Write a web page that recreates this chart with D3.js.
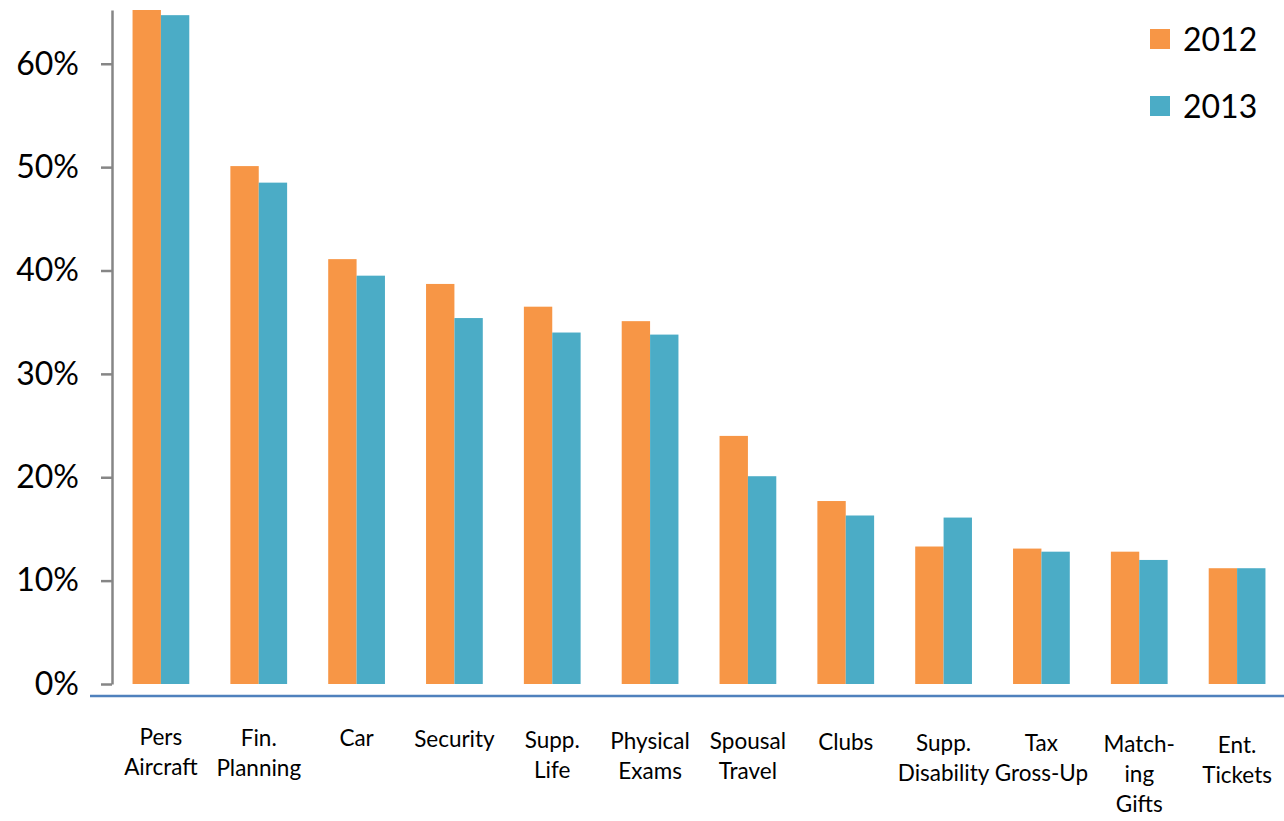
<!DOCTYPE html>
<html>
<head>
<meta charset="utf-8">
<script src="https://cdn.jsdelivr.net/npm/d3@7"></script>
<style>
  html, body { margin: 0; padding: 0; background: #fff; }
  svg { display: block; }
  text { font-family: Lato, "Open Sans", sans-serif; fill: #000; }
</style>
</head>
<body>
<svg id="chart" width="1284" height="821"></svg>
<script>
// Share of companies providing each executive perquisite
const categories = [
  ["Pers", "Aircraft"],
  ["Fin.", "Planning"],
  ["Car"],
  ["Security"],
  ["Supp.", "Life"],
  ["Physical", "Exams"],
  ["Spousal", "Travel"],
  ["Clubs"],
  ["Supp.", "Disability"],
  ["Tax", "Gross-Up"],
  ["Match-", "ing", "Gifts"],
  ["Ent.", "Tickets"]
];
const seriesNames = ["2012", "2013"];
const values2012 = [65.2, 50.1, 41.1, 38.7, 36.5, 35.1, 24.0, 17.7, 13.3, 13.1, 12.8, 11.2];
const values2013 = [64.7, 48.5, 39.5, 35.4, 34.0, 33.8, 20.1, 16.3, 16.1, 12.8, 12.0, 11.2];
const yTicks = [0, 10, 20, 30, 40, 50, 60];
const colors = ["#F79646", "#4BACC6"];

const svg = d3.select("#chart");
const keys = categories.map((c, i) => i);

const x = d3.scaleBand()
  .domain(keys)
  .range([112, 1286])
  .paddingInner(0.42)
  .paddingOuter(0.21);

const xs = d3.scaleBand()
  .domain(seriesNames)
  .range([0, x.bandwidth()]);

const y = d3.scaleLinear()
  .domain([0, 65.2])
  .range([684, 10]);

// Bars
const series = [values2012, values2013];
series.forEach((vals, s) => {
  svg.append("g")
    .selectAll("rect")
    .data(vals)
    .join("rect")
    .attr("x", (d, i) => x(i) + xs(seriesNames[s]))
    .attr("y", d => y(d))
    .attr("width", xs.bandwidth())
    .attr("height", d => y(0) - y(d))
    .attr("fill", colors[s]);
});

// Y axis
const yAxis = d3.axisLeft(y)
  .tickValues(yTicks)
  .tickFormat(d => d + "%")
  .tickSize(11)
  .tickPadding(22)
  .tickSizeOuter(0);

const yg = svg.append("g")
  .attr("transform", "translate(112,0)")
  .call(yAxis);
yg.select(".domain").attr("stroke", "#868686").attr("stroke-width", 2.5);
yg.selectAll(".tick line").attr("stroke", "#868686").attr("stroke-width", 2.5);
yg.selectAll(".tick text")
  .style("font-family", "Lato, 'Open Sans', sans-serif")
  .style("font-size", "32px")
  .attr("fill", "#000");

// Category axis baseline
svg.append("line")
  .attr("x1", 90).attr("x2", 1284)
  .attr("y1", 696).attr("y2", 696)
  .attr("stroke", "#4F81BD")
  .attr("stroke-width", 2.5);

// Category labels
const labels = svg.append("g")
  .selectAll("text")
  .data(categories)
  .join("text")
  .attr("text-anchor", "middle")
  .attr("x", (d, i) => x(i) + x.bandwidth() / 2)
  .attr("y", (d, i) => 745 + i * 0.7)
  .style("font-size", "22.5px");

labels.selectAll("tspan")
  .data(d => d)
  .join("tspan")
  .attr("x", function() { return d3.select(this.parentNode).attr("x"); })
  .attr("dy", (d, j) => j === 0 ? 0 : 30)
  .text(d => d);

// Legend
const legend = svg.append("g");
seriesNames.forEach((name, s) => {
  const gy = 29 + s * 67;
  legend.append("rect")
    .attr("x", 1150).attr("y", gy)
    .attr("width", 20).attr("height", 20)
    .attr("fill", colors[s]);
  legend.append("text")
    .attr("x", 1183).attr("y", gy + 10)
    .attr("dy", "0.36em")
    .style("font-size", "32px")
    .text(name);
});
</script>
</body>
</html>
